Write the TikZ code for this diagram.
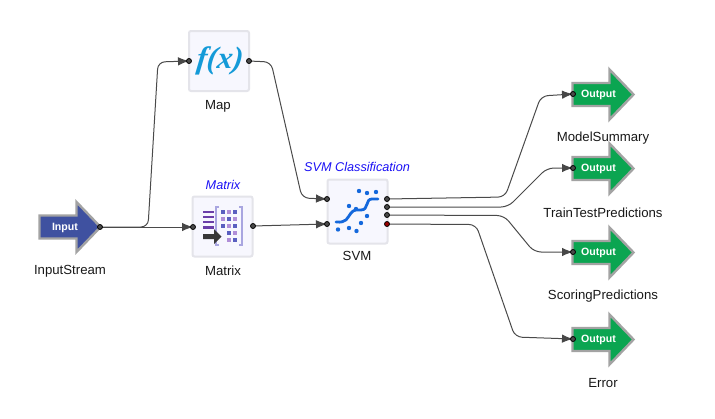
\documentclass[tikz,border=0pt]{standalone}
\usepackage{fontspec}
\setmainfont{Liberation Sans}
\newfontfamily\fxfont{Liberation Serif}
\usetikzlibrary{arrows.meta}
\pgfdeclarelayer{ports}
\pgfsetlayers{main,ports}
\definecolor{boxfill}{HTML}{F7F7FE}
\definecolor{boxline}{HTML}{E4E4EA}
\definecolor{arrowline}{HTML}{A3A3A3}
\definecolor{inblue}{HTML}{3F51A0}
\definecolor{outgreen}{HTML}{0BA551}
\definecolor{wire}{HTML}{4A4A4A}
\definecolor{tagblue}{HTML}{1C12F5}
\definecolor{fxblue}{HTML}{149AD8}
\definecolor{svmblue}{HTML}{1468DC}
\definecolor{barpurple}{HTML}{6B3FA8}
\definecolor{brack}{HTML}{A9A6E0}
\definecolor{dotdark}{HTML}{5A5FC0}
\definecolor{dotlight}{HTML}{B08ED8}
\tikzset{
  x=1pt,y=-1pt,
  opbox/.style={draw=boxline,line width=2pt,fill=boxfill,rounded corners=2pt,inner sep=0pt,minimum width=60pt,minimum height=60pt},
  port/.style={circle,draw=black,fill=wire,line width=.8pt,minimum size=5pt,inner sep=0pt},
  errport/.style={port,fill=red!60!black},
  lbl/.style={font=\fontsize{13.2}{15}\selectfont,text=black!90,inner sep=0pt},
  tag/.style={font=\fontsize{12.7}{15}\selectfont\itshape,text=tagblue,inner sep=0pt},
  arrowtxt/.style={font=\fontsize{10.6}{12}\selectfont\bfseries,text=white,inner sep=0pt},
  wirestyle/.style={draw=wire,line width=1pt,rounded corners=7pt,-{Latex[length=11pt,width=8.5pt,color=black!72]}},
  ioarrow/.style={draw=arrowline,line width=2.4pt,miter limit=10},
  sdot/.style={fill=svmblue},
}
\newcommand{\bigarrow}[3]{%
  \draw[ioarrow,fill=#3,shift={(#1,#2)}] (0,-11.5) -- (37,-11.5) -- (37,-25) -- (61,0) -- (37,25) -- (37,11.5) -- (0,11.5) -- cycle;}
\begin{document}
\begin{tikzpicture}
\useasboundingbox (0,0) rectangle (715,418);
\fill[white] (0,0) rectangle (715,418);

% I/O arrows
\bigarrow{39.5}{227}{inblue}
\bigarrow{572.5}{94.5}{outgreen}
\bigarrow{572.5}{168.5}{outgreen}
\bigarrow{572.5}{252.5}{outgreen}
\bigarrow{572.5}{339.5}{outgreen}
\node[arrowtxt] (intxt) at (65,227.5) {Input};
\node[arrowtxt] (out1) at (598.5,95) {Output};
\node[arrowtxt] (out2) at (598.5,169) {Output};
\node[arrowtxt] (out3) at (598.5,253) {Output};
\node[arrowtxt] (out4) at (598.5,340) {Output};

% boxes
\node[opbox] (map) at (219,61) {};
\node[opbox] (matrix) at (222.5,226.5) {};
\node[opbox,minimum height=64pt] (svm) at (357.5,211.5) {};

% f(x)
\node[inner sep=0pt,text=fxblue,xslant=.12] (fx) at (220,60.5) {\fxfont\fontsize{31}{34}\selectfont\bfseries\itshape f(x)};

% matrix icon
\foreach \yy in {210.5,215.5,220.5,226}
  \fill[barpurple] (203,\yy) rectangle (214,\yy+2.6);
\draw[brack,line width=1.2pt] (219,207) -- (216,207) -- (216,245) -- (219,245);
\draw[brack,line width=1.2pt] (239,207) -- (242,207) -- (242,245) -- (239,245);
\foreach \xx/\yy/\cc in {223/212/dotdark,229/212/dotlight,235/212/dotdark,
  223/219/dotlight,229/219/dotdark,235/219/dotlight,
  223/226/dotdark,229/226/dotlight,235/226/dotdark,
  229/233/dotdark,235/233/dotlight,
  229/240/dotlight,235/240/dotdark}
  \fill[\cc] (\xx-2,\yy-2) rectangle (\xx+2,\yy+2);
\fill[black!78] (203,234) -- (214,234) -- (214,229) -- (221.5,236.5) -- (214,244) -- (214,239) -- (203,239) -- cycle;

% svm icon
\draw[svmblue,line width=2.8pt,line cap=round] (336,222) .. controls (347,223) and (347,218) .. (351,213)
  .. controls (354,209) and (358,210) .. (361,210) .. controls (369,210) and (365,199) .. (372,199) -- (378,199);
\foreach \xx/\yy in {359/191,367/193,376/192,349/206,356/209,367/216,361/223,338/229.5,349/228,356.5/231}
  \fill[sdot] (\xx,\yy) circle (2.2pt);

% labels
\node[lbl] (l1) at (70,271.5) {InputStream};
\node[lbl] (l2) at (223,270.5) {Matrix};
\node[lbl] (l3) at (218,106.5) {Map};
\node[lbl] (l4) at (357,255.5) {SVM};
\node[lbl] (l5) at (603,138.5) {ModelSummary};
\node[lbl] (l6) at (603,212.5) {TrainTestPredictions};
\node[lbl] (l7) at (603,296.5) {ScoringPredictions};
\node[lbl] (l8) at (603,383.5) {Error};
\node[tag] (t1) at (223,184.5) {Matrix};
\node[tag] (t2) at (357,167) {SVM Classification};

% ports
\begin{pgfonlayer}{ports}
\node[port] (pin) at (100,227) {};
\node[port] (pmapi) at (189,61) {};
\node[port] (pmapo) at (249,61) {};
\node[port] (pmati) at (193,227) {};
\node[port] (pmato) at (253,226) {};
\node[port] (psi1) at (327,199) {};
\node[port] (psi2) at (327,224) {};
\node[port] (pso1) at (387,199) {};
\node[port] (pso2) at (387,207) {};
\node[port] (pso3) at (387,215) {};
\node[errport] (pso4) at (387,224) {};
\node[port] (po1) at (573,94) {};
\node[port] (po2) at (573,168) {};
\node[port] (po3) at (573,252) {};
\node[port] (po4) at (573,339) {};
\end{pgfonlayer}

% connectors
\draw[wirestyle] (pin.center) -- (pmati.center);
\draw[wirestyle] (pin.center) -- (148,227) -- (158,62) -- (pmapi.center);
\draw[wirestyle] (pmato.center) -- (psi2.center);
\draw[wirestyle] (pmapo.center) -- (271,62) -- (302,198) -- (psi1.center);
\draw[wirestyle] (pso1.center) -- (505,197) -- (541,96) -- (po1.center);
\draw[wirestyle] (pso2.center) -- (508,207) -- (547,168) -- (po2.center);
\draw[wirestyle] (pso3.center) -- (504,215.5) -- (534,252) -- (po3.center);
\draw[wirestyle] (pso4.center) -- (476,224.5) -- (515,337) -- (po4.center);
\end{tikzpicture}
\end{document}
